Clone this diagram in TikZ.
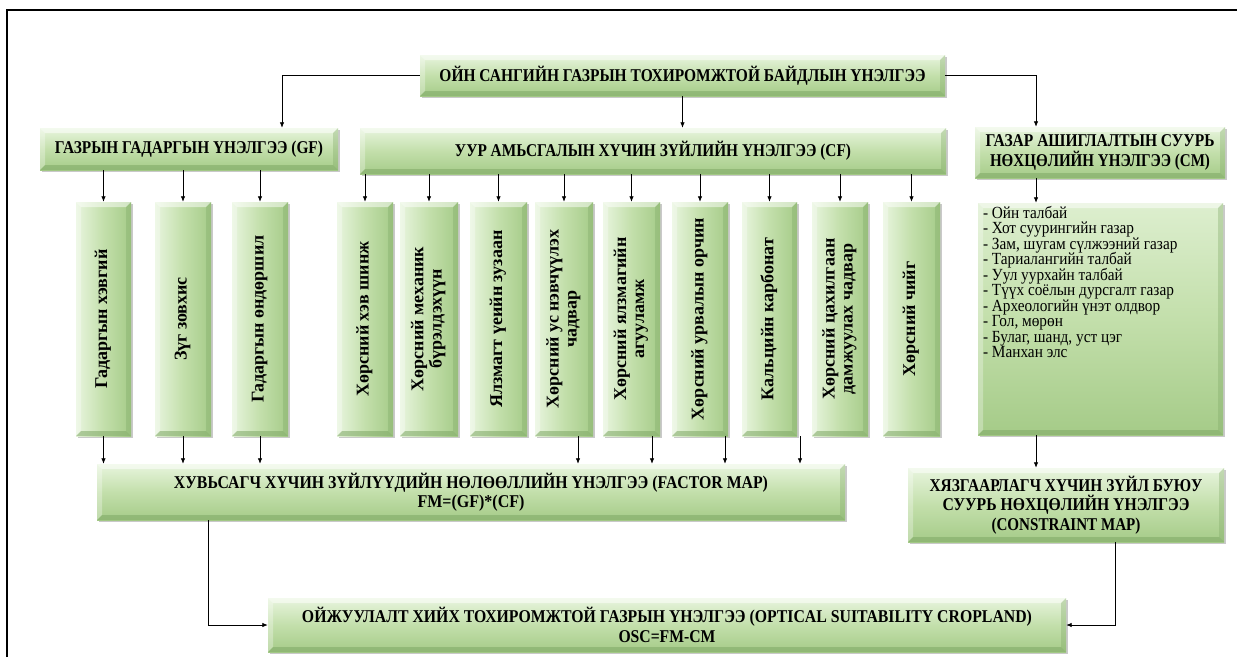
\documentclass[tikz,border=0pt]{standalone}
\usepackage{fontspec}
\setmainfont{Liberation Serif}
\usepackage{graphicx}
\usetikzlibrary{arrows.meta,shadows}
\definecolor{gtop}{HTML}{E8F5DE}
\definecolor{gmid}{HTML}{C3DFAB}
\definecolor{gbot}{HTML}{A5CB88}
\definecolor{gedge}{HTML}{7FA866}
\newcommand{\hfont}{\fontsize{18}{19.5}\selectfont\bfseries}
\newcommand{\vfont}{\fontsize{18}{18}\selectfont\bfseries}
\newcommand{\lfont}{\fontsize{17}{15.5}\selectfont\lineskiplimit=-100pt\relax}
\newcommand{\fitw}[2]{\resizebox{#1pt}{\height}{#2}}
\newcommand{\vtext}[1]{\rotatebox{90}{\vfont\begin{tabular}{@{}c@{}}#1\end{tabular}}}
\newcommand{\li}[1]{\scalebox{0.9}[1]{- #1}}
\tikzset{
  bevel/.style={path picture={
    \path (path picture bounding box.north west) coordinate (bvA)
          (path picture bounding box.north east) coordinate (bvB)
          (path picture bounding box.south east) coordinate (bvC)
          (path picture bounding box.south west) coordinate (bvD);
    \path ([shift={(5pt,-5pt)}]bvA) coordinate (bva)
          ([shift={(-5pt,-5pt)}]bvB) coordinate (bvb)
          ([shift={(-5pt,5pt)}]bvC) coordinate (bvc)
          ([shift={(5pt,5pt)}]bvD) coordinate (bvd);
    \fill[white,opacity=.5] (bvA) -- (bvB) -- (bvb) -- (bva) -- cycle;
    \fill[white,opacity=.3] (bvA) -- (bva) -- (bvd) -- (bvD) -- cycle;
    \fill[gedge,opacity=.55] (bvD) -- (bvd) -- (bvc) -- (bvC) -- cycle;
    \fill[gedge,opacity=.35] (bvB) -- (bvC) -- (bvc) -- (bvb) -- cycle;
  }},
  shad/.style={drop shadow={shadow xshift=2pt,shadow yshift=-2pt,opacity=.3,fill=black!70}},
  hbox/.style={shape=rectangle, inner sep=0pt, top color=gtop, bottom color=gbot, middle color=gmid, shad, bevel, align=center, font=\hfont},
  vbox/.style={shape=rectangle, inner sep=0pt, left color=gtop, right color=gbot, middle color=gmid, shad, bevel, minimum height=234pt},
  lbox/.style={shape=rectangle, inner sep=0pt, top color=gtop!70!gmid, bottom color=gbot, middle color=gmid, shad, bevel},
  listtext/.style={inner sep=0pt, align=left, font=\lfont},
  arr/.style={draw=black, line width=0.8pt, -{Latex[length=5.5pt,width=4.5pt]}},
}
\begin{document}
\begin{tikzpicture}[x=1pt,y=-1pt]
\useasboundingbox (0,0) rectangle (1237,657);
% frame
\draw[line width=1.5pt] (7,657) -- (7,10) -- (1237,10);

% top level
\node[hbox, minimum width=525pt, minimum height=41pt] (top) at (682.5,75.5)
  {\fitw{486}{ОЙН САНГИЙН ГАЗРЫН ТОХИРОМЖТОЙ БАЙДЛЫН ҮНЭЛГЭЭ}};

% second level
\node[hbox, minimum width=298pt, minimum height=42pt] (gf) at (189,149)
  {\fitw{268}{ГАЗРЫН ГАДАРГЫН ҮНЭЛГЭЭ (GF)}};
\node[hbox, minimum width=586pt, minimum height=46pt] (cf) at (653,151)
  {\fitw{396}{УУР АМЬСГАЛЫН ХҮЧИН ЗҮЙЛИЙН ҮНЭЛГЭЭ (CF)}};
\node[hbox, minimum width=250pt, minimum height=51pt] (cm) at (1100,152.5)
  {\fitw{229}{ГАЗАР АШИГЛАЛТЫН СУУРЬ}\\\fitw{220}{НӨХЦӨЛИЙН ҮНЭЛГЭЭ (CM)}};

% GF factors
\node[vbox, minimum width=55pt] (g1) at (103.5,319) {\vtext{Гадаргын хэвгий}};
\node[vbox, minimum width=56pt] (g2) at (183,319) {\vtext{Зүг зовхис}};
\node[vbox, minimum width=56pt] (g3) at (260,319) {\vtext{Гадаргын өндөршил}};

% CF factors
\node[vbox, minimum width=56pt] (c1) at (365,319) {\vtext{Хөрсний хэв шинж}};
\node[vbox, minimum width=58pt] (c2) at (429,319) {\vtext{Хөрсний механик\\бүрэлдэхүүн}};
\node[vbox, minimum width=57pt] (c3) at (498.5,319) {\vtext{Ялзмагт үеийн зузаан}};
\node[vbox, minimum width=58pt] (c4) at (564,319) {\vtext{Хөрсний ус нэвчүүлэх\\чадвар}};
\node[vbox, minimum width=57pt] (c5) at (631.5,319) {\vtext{Хөрсний ялзмагийн\\агууламж}};
\node[vbox, minimum width=56pt] (c6) at (700,319) {\vtext{Хөрсний урвалын орчин}};
\node[vbox, minimum width=55pt] (c7) at (769.5,319) {\vtext{Кальцийн карбонат}};
\node[vbox, minimum width=56pt] (c8) at (840,319) {\vtext{Хөрсний цахилгаан\\дамжуулах чадвар}};
\node[vbox, minimum width=57pt] (c9) at (911.5,319) {\vtext{Хөрсний чийг}};

% CM list
\node[lbox, minimum width=245pt, minimum height=232pt] (list) at (1100.5,319) {};
\node[listtext, anchor=north west] (listtxt) at ([shift={(5pt,-3pt)}]list.north west)
  {\li{Ойн талбай}\\
   \li{Хот суурингийн газар}\\
   \li{Зам, шугам сүлжээний газар}\\
   \li{Тариалангийн талбай}\\
   \li{Уул уурхайн талбай}\\
   \li{Түүх соёлын дурсгалт газар}\\
   \li{Археологийн үнэт олдвор}\\
   \li{Гол, мөрөн}\\
   \li{Булаг, шанд, уст цэг}\\
   \li{Манхан элс}};

% maps
\node[hbox, minimum width=748pt, minimum height=56pt] (fm) at (471,492)
  {\fitw{594}{ХУВЬСАГЧ ХҮЧИН ЗҮЙЛҮҮДИЙН НӨЛӨӨЛЛИЙН ҮНЭЛГЭЭ (FACTOR MAP)}\\\fitw{107}{FM=(GF)*(CF)}};
\node[hbox, minimum width=316pt, minimum height=74pt] (con) at (1066,505)
  {\fitw{273}{ХЯЗГААРЛАГЧ ХҮЧИН ЗҮЙЛ БУЮУ}\\\fitw{247}{СУУРЬ НӨХЦӨЛИЙН ҮНЭЛГЭЭ}\\\fitw{149}{(CONSTRAINT MAP)}};
\node[hbox, minimum width=798pt, minimum height=54pt] (bot) at (667,625)
  {\fitw{730}{ОЙЖУУЛАЛТ ХИЙХ ТОХИРОМЖТОЙ ГАЗРЫН ҮНЭЛГЭЭ (OPTICAL SUITABILITY CROPLAND)}\\\fitw{97}{OSC=FM-CM}};

% helper x positions for connectors
\coordinate (xgf) at (282,0);
\coordinate (xcm) at (1036,0);
\coordinate (xfm) at (208,0);
\coordinate (xcon) at (1115,0);

% connectors
\draw[arr] (top.west) -| (gf.north -| xgf);
\draw[arr] (top.south) -- (top.south |- cf.north);
\draw[arr] (top.east) -| (cm.north -| xcm);
\foreach \b in {g1,g2,g3} \draw[arr] (gf.south -| \b.north) -- (\b.north);
\foreach \b in {c1,c2,c3,c4,c5,c6,c7,c8,c9} \draw[arr] (cf.south -| \b.north) -- (\b.north);
\foreach \b in {g1,g2,g3} \draw[arr] (\b.south) -- (\b.south |- fm.north);
\foreach \b/\s in {c4/14,c5/20.5,c6/25,c7/30.5}
  \draw[arr] ([xshift=\s pt]\b.south) -- ([xshift=\s pt]\b.south |- fm.north);
\draw[arr] (cm.south -| xcm) -- (list.north -| xcm);
\draw[arr] (list.south -| xcm) -- (con.north -| xcm);
\draw[arr] (fm.south -| xfm) |- (bot.west);
\draw[arr] (con.south -| xcon) |- (bot.east);
\end{tikzpicture}
\end{document}
